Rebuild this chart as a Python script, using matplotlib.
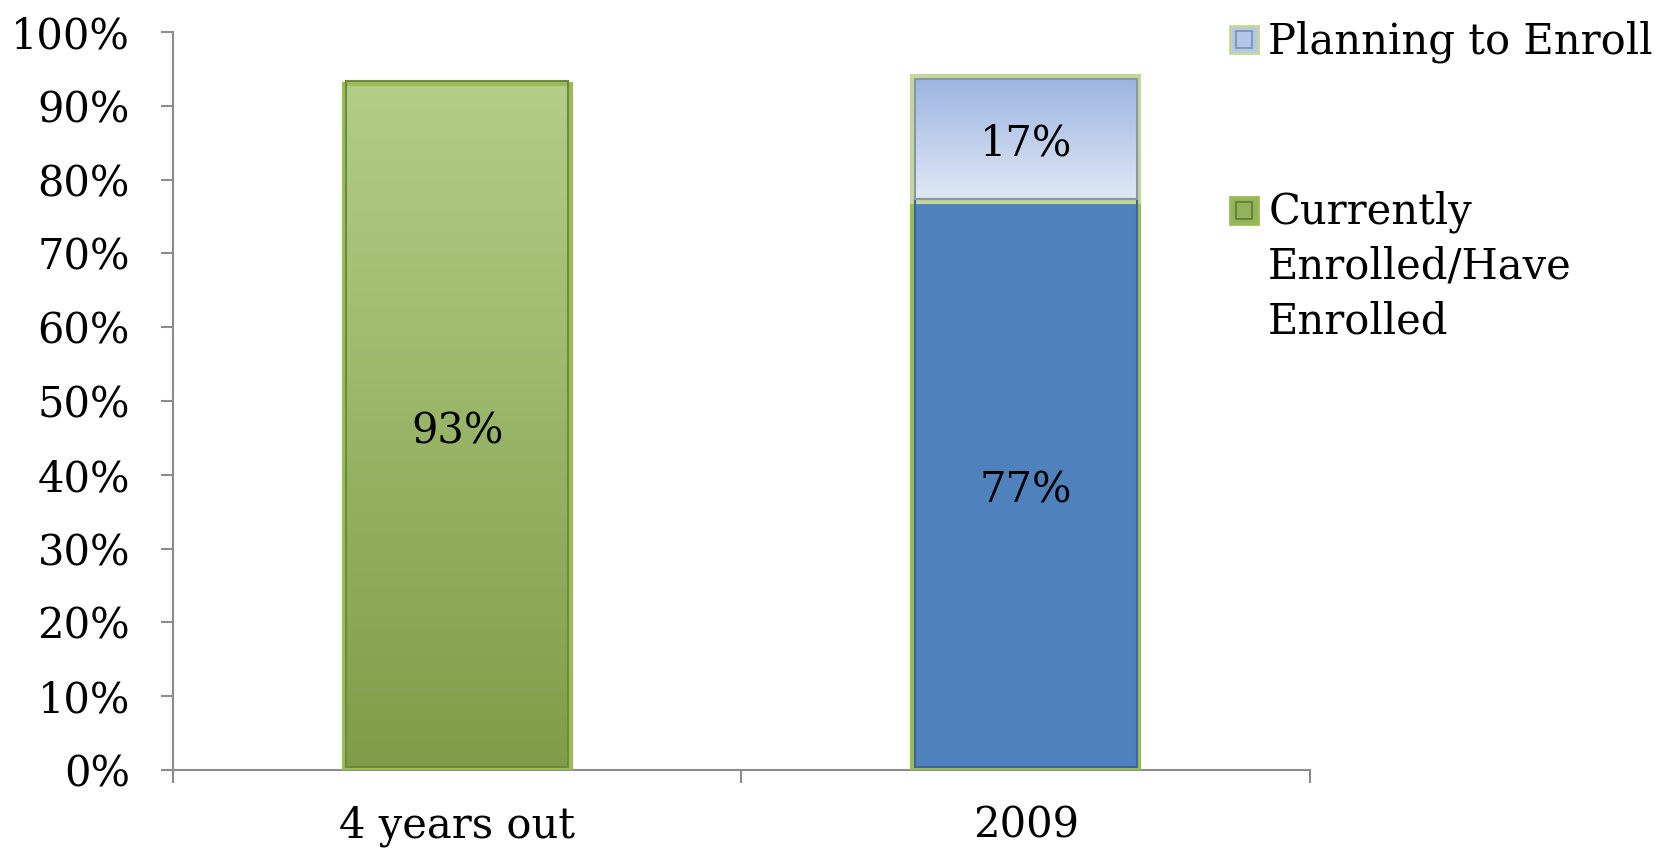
import numpy as np
import matplotlib
matplotlib.use('Agg')
import matplotlib.pyplot as plt
from matplotlib.colors import LinearSegmentedColormap
from matplotlib.patches import Rectangle

categories = ['4 years out', '2009']
enrolled = [93, 77]
planning = [0, 17]
yticks = list(range(0, 101, 10))
legend_labels = ['Planning to Enroll', 'Currently\nEnrolled/Have\nEnrolled']

plt.rcParams['font.family'] = ['DejaVu Serif']
FS = 30

fig = plt.figure(figsize=(16.73, 8.58), dpi=100)
ax = fig.add_axes([0.1034, 0.1026, 0.6796, 0.8601])

x = np.arange(len(categories))
width = 0.40


def gradient_fill(ax, patch, top, bottom):
    # vertical gradient clipped to the bar
    cmap = LinearSegmentedColormap.from_list('g', [bottom, top])
    bx, by = patch.get_x(), patch.get_y()
    bw, bh = patch.get_width(), patch.get_height()
    grad = np.linspace(0, 1, 256).reshape(-1, 1)
    im = ax.imshow(grad, cmap=cmap, origin='lower', aspect='auto',
                   extent=[bx, bx + bw, by, by + bh], zorder=2)
    im.set_clip_path(patch)


# Currently enrolled: first bar green gradient, second solid blue
bars1 = ax.bar(x, enrolled, width, color=['#98b865', '#4f81bd'],
               edgecolor='#9bbb59', linewidth=3, zorder=3)
gradient_fill(ax, bars1[0], '#b2ce87', '#7f9d48')
bars1[0].set_facecolor('none')
bars2 = ax.bar(x, planning, width, bottom=enrolled, color='none',
               edgecolor='#c3d69b', linewidth=3, zorder=3)
gradient_fill(ax, bars2[1], '#9ab4e1', '#e2e9f5')
bars2[0].set_visible(False)

# inner darker outlines
inner_cols = ['#6f8a3c', '#3e6597']
ax.bar(x, enrolled, width * 0.975, bottom=0.4, color='none',
       edgecolor=inner_cols, linewidth=1.5, zorder=4)
ax.bar(x[1:], [p - 0.8 for p in planning[1:]], width * 0.975,
       bottom=[e + 0.4 for e in enrolled[1:]], color='none',
       edgecolor='#8a96a8', linewidth=1.5, zorder=4)

# value labels
for i in range(len(categories)):
    ax.text(x[i], enrolled[i] / 2, f'{enrolled[i]}%', ha='center',
            va='center_baseline', fontsize=FS, zorder=5)
    if planning[i] > 0:
        ax.text(x[i], enrolled[i] + planning[i] / 2, f'{planning[i]}%',
                ha='center', va='center_baseline', fontsize=FS, zorder=5)

ax.set_xlim(-0.5, 1.5)
ax.set_ylim(0, 100)
ax.set_yticks(yticks)
ax.set_yticklabels([f'{t}%' for t in yticks], fontsize=FS)
ax.set_xticks([-0.5, 0.5, 1.5])
ax.set_xticklabels([])
ax.set_xticks(x, minor=True)
ax.set_xticklabels(categories, minor=True, fontsize=FS)
ax.tick_params(axis='x', which='minor', length=0, pad=25)
ax.tick_params(axis='x', which='major', length=9, width=1.5, color='#8c8c8c')
ax.tick_params(axis='y', length=9, width=1.5, color='#8c8c8c', pad=22)
for s in ['top', 'right']:
    ax.spines[s].set_visible(False)
for s in ['left', 'bottom']:
    ax.spines[s].set_color('#8c8c8c')
    ax.spines[s].set_linewidth(1.5)

# legend drawn by hand
sw, sh = 28 / 1673, 27 / 858
items = [(0.9382, '#b3c7ea', '#c3d69b', '#7f8fa8', legend_labels[0]),
         (0.7390, '#93b35a', '#9bbb59', '#5f7a33', legend_labels[1])]
line_step = 55 / 858
for y, fc, ec, ic, lab in items:
    fig.patches.append(Rectangle((0.7352, y), sw, sh, transform=fig.transFigure,
                                 facecolor=fc, edgecolor=ec, linewidth=2))
    fig.patches.append(Rectangle((0.7352 + sw * 0.2, y + sh * 0.2), sw * 0.6, sh * 0.6,
                                 transform=fig.transFigure, facecolor='none',
                                 edgecolor=ic, linewidth=1.2))
    for k, line in enumerate(lab.split('\n')):
        fig.text(0.758, y - k * line_step, line, fontsize=FS, va='baseline', ha='left')

fig.savefig('out.png', dpi=100)
